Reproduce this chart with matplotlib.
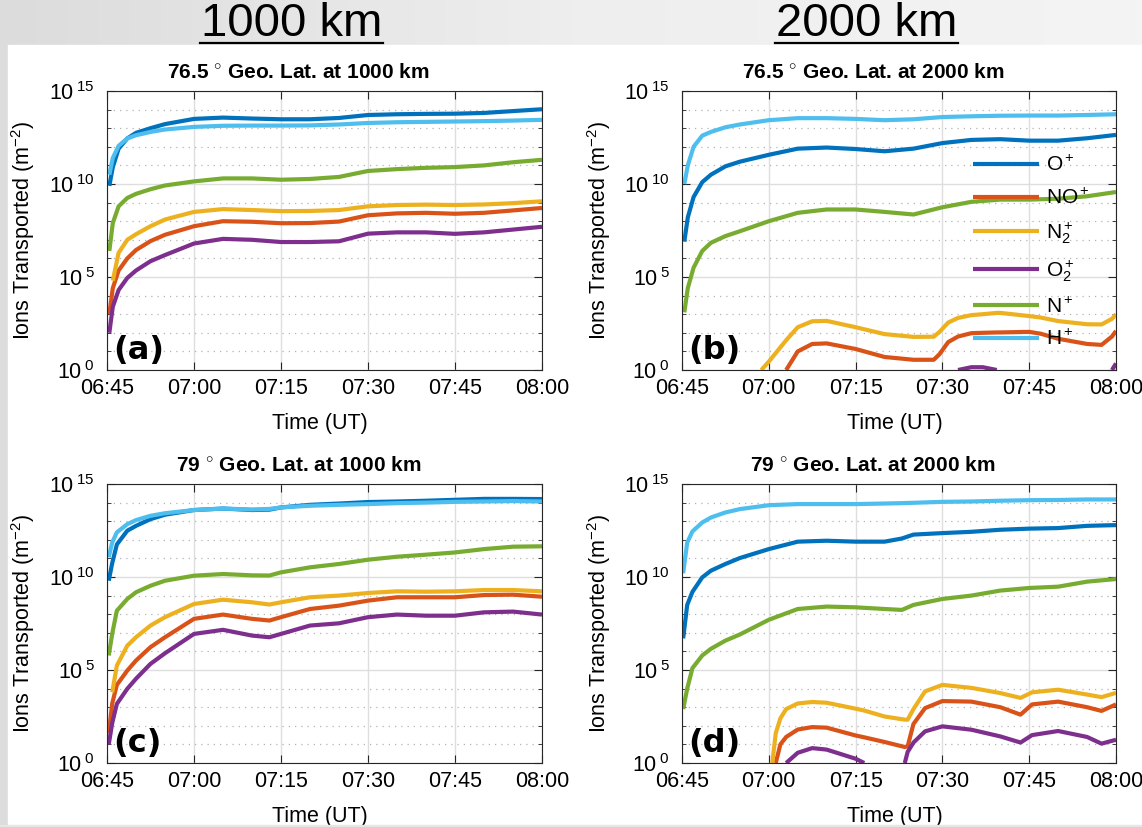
import numpy as np
import matplotlib.pyplot as plt
from matplotlib.patches import Rectangle
from matplotlib.lines import Line2D
from matplotlib.colors import LinearSegmentedColormap
from matplotlib.ticker import FixedLocator, NullFormatter

nan = np.nan

# time in minutes after 06:45 UT, values are log10(ions m^-2)
ions = ['O$^+$', 'NO$^+$', 'N$_2^+$', 'O$_2^+$', 'N$^+$', 'H$^+$']
colors = ['#0072BD', '#D95319', '#EDB120', '#7E2F8E', '#77AC30', '#4DBEEE']
time_ticks = [0, 15, 30, 45, 60, 75]
time_labels = ['06:45', '07:00', '07:15', '07:30', '07:45', '08:00']

# (a) 76.5 deg, 1000 km
t_a = [0.4, 1, 2, 3.5, 5, 7.5, 10, 15, 20, 25, 30, 35, 40, 45, 50, 55, 60, 65, 70, 75]
a_O = [9.9, 10.9, 11.9, 12.45, 12.75, 13.0, 13.22, 13.5, 13.57, 13.52, 13.48, 13.48, 13.55, 13.71, 13.75, 13.77, 13.78, 13.82, 13.92, 14.02]
a_NO = [3.0, 4.4, 5.35, 6.0, 6.45, 6.93, 7.27, 7.73, 8.0, 7.97, 7.89, 7.9, 7.98, 8.32, 8.42, 8.45, 8.4, 8.45, 8.58, 8.71]
a_N2 = [nan, 4.8, 6.3, 7.0, 7.3, 7.73, 8.09, 8.5, 8.65, 8.6, 8.54, 8.55, 8.6, 8.8, 8.87, 8.89, 8.87, 8.9, 8.97, 9.07]
a_O2 = [2.0, 3.4, 4.3, 4.95, 5.35, 5.85, 6.18, 6.8, 7.05, 7.0, 6.88, 6.88, 6.92, 7.33, 7.4, 7.4, 7.32, 7.4, 7.55, 7.7]
a_N = [6.4, 7.9, 8.8, 9.25, 9.47, 9.72, 9.92, 10.14, 10.3, 10.3, 10.23, 10.27, 10.38, 10.7, 10.8, 10.87, 10.91, 11.0, 11.17, 11.3]
a_H = [10.5, 11.4, 12.05, 12.45, 12.62, 12.8, 12.93, 13.07, 13.13, 13.14, 13.14, 13.15, 13.2, 13.28, 13.32, 13.34, 13.36, 13.38, 13.41, 13.45]

# (b) 76.5 deg, 2000 km
t_b = [0.4, 1, 2, 3.5, 5, 7.5, 10, 15, 20, 25, 30, 35, 40, 45, 50, 55, 60, 65, 70, 75]
b_O = [6.9, 8.2, 9.3, 10.1, 10.5, 10.95, 11.2, 11.57, 11.9, 11.96, 11.88, 11.76, 11.9, 12.2, 12.37, 12.41, 12.33, 12.33, 12.46, 12.64]
b_N = [3.1, 4.4, 5.5, 6.4, 6.84, 7.2, 7.46, 8.0, 8.45, 8.63, 8.63, 8.5, 8.36, 8.75, 9.04, 9.16, 9.16, 9.21, 9.34, 9.57]
b_H = [10.0, 11.0, 12.0, 12.6, 12.8, 13.05, 13.2, 13.43, 13.54, 13.54, 13.5, 13.43, 13.48, 13.6, 13.64, 13.67, 13.68, 13.68, 13.71, 13.75]
t_b_low = [13.7, 15, 18, 20, 22.5, 25, 30, 35, 40, 43.5, 44.5, 46, 47.7, 50, 52, 54.4, 55, 60, 62, 65, 70, 72.5, 74.3, 75]
b_NO = [nan, nan, 0.0, 1.0, 1.4, 1.43, 1.13, 0.7, 0.55, 0.55, 0.85, 1.5, 1.8, 1.98, 2.0, 2.02, 2.02, 2.05, 1.95, 1.68, 1.4, 1.35, 1.8, 2.1]
b_N2 = [0.0, 0.45, 1.6, 2.3, 2.62, 2.64, 2.3, 1.93, 1.78, 1.79, 2.05, 2.55, 2.8, 2.95, 3.0, 3.07, 3.07, 2.9, 2.82, 2.63, 2.46, 2.45, 2.75, 3.0]
b_O2 = [nan, nan, nan, nan, nan, nan, nan, nan, nan, nan, nan, nan, 0.0, 0.15, 0.15, 0.0, nan, nan, nan, nan, nan, nan, 0.0, 0.35]

# (c) 79 deg, 1000 km
t_c = [0.3, 0.9, 1.7, 3.5, 5, 7.5, 10, 15, 20, 25, 28, 30, 35, 40, 45, 50, 55, 60, 65, 70, 75]
c_O = [9.8, 10.75, 11.75, 12.49, 12.75, 13.11, 13.35, 13.6, 13.68, 13.6, 13.62, 13.74, 13.88, 13.95, 14.03, 14.06, 14.1, 14.15, 14.2, 14.2, 14.19]
c_NO = [1.6, 3.2, 4.2, 4.97, 5.51, 6.23, 6.76, 7.75, 7.98, 7.75, 7.66, 7.84, 8.28, 8.46, 8.73, 8.91, 8.91, 8.91, 9.03, 9.05, 8.94]
c_N2 = [nan, 3.8, 5.24, 6.31, 6.76, 7.39, 7.84, 8.55, 8.78, 8.64, 8.52, 8.64, 8.91, 9.0, 9.14, 9.23, 9.21, 9.23, 9.3, 9.3, 9.23]
c_O2 = [1.0, 2.15, 3.18, 3.99, 4.53, 5.33, 5.9, 6.94, 7.16, 6.85, 6.76, 6.94, 7.39, 7.51, 7.84, 7.98, 7.92, 7.92, 8.1, 8.14, 7.98]
c_N = [5.78, 6.95, 8.19, 8.82, 9.18, 9.53, 9.8, 10.07, 10.16, 10.09, 10.08, 10.25, 10.52, 10.7, 10.93, 11.09, 11.2, 11.32, 11.5, 11.63, 11.65]
c_H = [11.06, 11.86, 12.4, 12.84, 13.06, 13.29, 13.43, 13.6, 13.68, 13.63, 13.66, 13.74, 13.83, 13.88, 13.92, 13.97, 14.0, 14.04, 14.06, 14.08, 14.06]

# (d) 79 deg, 2000 km
t_d = [0.2, 0.9, 1.8, 3.5, 5, 7.5, 10, 15, 20, 25, 30, 35, 38, 40, 45, 50, 55, 60, 65, 70, 75]
d_O = [6.7, 8.5, 9.2, 9.98, 10.34, 10.7, 11.02, 11.5, 11.9, 11.95, 11.9, 11.9, 12.07, 12.28, 12.36, 12.43, 12.54, 12.6, 12.63, 12.75, 12.79]
d_N = [2.9, 4.0, 5.1, 5.78, 6.14, 6.58, 6.91, 7.7, 8.28, 8.41, 8.37, 8.28, 8.23, 8.5, 8.82, 9.0, 9.27, 9.41, 9.48, 9.75, 9.89]
d_H = [10.2, 11.85, 12.45, 12.93, 13.2, 13.47, 13.65, 13.86, 13.92, 13.92, 13.92, 13.95, 13.97, 13.99, 14.04, 14.06, 14.1, 14.13, 14.14, 14.17, 14.17]
t_d_low = [15.6, 16.2, 17, 18, 20, 22.5, 25, 30, 31.5, 35, 38.5, 39, 40, 42, 45, 50, 55, 58.5, 60.5, 65, 70, 72.5, 75]
d_NO = [nan, 0.0, 1.0, 1.4, 1.8, 1.93, 1.9, 1.48, 1.38, 1.13, 0.86, 0.9, 2.1, 2.95, 3.33, 3.3, 3.0, 2.6, 3.15, 3.3, 3.0, 2.8, 3.15]
d_N2 = [0.0, 1.6, 2.4, 2.9, 3.2, 3.28, 3.24, 2.92, 2.82, 2.5, 2.33, 2.33, 2.9, 3.85, 4.2, 4.04, 3.76, 3.5, 3.8, 3.94, 3.68, 3.54, 3.77]
d_O2 = [nan, nan, nan, 0.0, 0.55, 0.8, 0.72, 0.23, 0.0, nan, 0.0, 0.6, 1.1, 1.7, 1.97, 1.79, 1.43, 1.1, 1.5, 1.72, 1.4, 1.04, 1.25]

plt.rcParams['font.family'] = ['Liberation Sans', 'DejaVu Sans']
plt.rcParams['mathtext.fontset'] = 'custom'
plt.rcParams['mathtext.rm'] = 'Liberation Sans'
plt.rcParams['mathtext.it'] = 'Liberation Sans:italic'
plt.rcParams['mathtext.bf'] = 'Liberation Sans:bold'

W, H = 1142, 827
fig = plt.figure(figsize=(W / 100, H / 100), dpi=100)

# slide-like background
bg = fig.add_axes([0, 0, 1, 1], zorder=-10)
grad = np.linspace(0, 1, 256).reshape(1, -1)
cmap = LinearSegmentedColormap.from_list('g', ['#dcdcdc', '#eeeeee', '#f4f4f4'])
bg.imshow(grad, aspect='auto', extent=[0, 1, 0, 1], cmap=cmap)
bg.add_patch(Rectangle((8 / W, 1 - 825 / H), 1 - 8 / W, (825 - 45) / H, color='white'))
bg.set_xlim(0, 1)
bg.set_ylim(0, 1)
bg.axis('off')

for txt, xc, x0, x1 in [('1000 km', 292, 200, 383), ('2000 km', 867, 775, 958)]:
    fig.text(xc / W, 1 - 24 / H, txt, fontsize=34, ha='center', va='center')
    fig.add_artist(Line2D([x0 / W, x1 / W], [1 - 43 / H, 1 - 43 / H], color='black', lw=1.6))


def fpos(left, top, right, bottom):
    return [left / W, 1 - bottom / H, (right - left) / W, (bottom - top) / H]


axes = {
    'a': fig.add_axes(fpos(107, 91, 542, 370)),
    'b': fig.add_axes(fpos(682, 91, 1116, 370)),
    'c': fig.add_axes(fpos(107, 484, 542, 763)),
    'd': fig.add_axes(fpos(682, 484, 1116, 763)),
}
titles = {
    'a': r'76.5 $^{\circ}$ Geo. Lat. at 1000 km',
    'b': r'76.5 $^{\circ}$ Geo. Lat. at 2000 km',
    'c': r'79 $^{\circ}$ Geo. Lat. at 1000 km',
    'd': r'79 $^{\circ}$ Geo. Lat. at 2000 km',
}
series = {
    'a': [(t_a, a_O), (t_a, a_NO), (t_a, a_N2), (t_a, a_O2), (t_a, a_N), (t_a, a_H)],
    'b': [(t_b, b_O), (t_b_low, b_NO), (t_b_low, b_N2), (t_b_low, b_O2), (t_b, b_N), (t_b, b_H)],
    'c': [(t_c, c_O), (t_c, c_NO), (t_c, c_N2), (t_c, c_O2), (t_c, c_N), (t_c, c_H)],
    'd': [(t_d, d_O), (t_d_low, d_NO), (t_d_low, d_N2), (t_d_low, d_O2), (t_d, d_N), (t_d, d_H)],
}

for key, ax in axes.items():
    for (t, v), col, lab in zip(series[key], colors, ions):
        ax.plot(t, 10.0 ** np.array(v), color=col, lw=3, label=lab, solid_capstyle='butt')
    ax.set_yscale('log')
    ax.set_xlim(0, 75)
    ax.set_ylim(1, 1e15)
    ax.set_xticks(time_ticks)
    ax.set_xticklabels(time_labels)
    ax.set_yticks([1, 1e5, 1e10, 1e15])
    ax.set_yticklabels([r'10$\,^{0}$', r'10$\,^{5}$', r'10$\,^{10}$', r'10$\,^{15}$'])
    ax.yaxis.set_minor_locator(FixedLocator(10.0 ** np.arange(0, 16)))
    ax.yaxis.set_minor_formatter(NullFormatter())
    ax.tick_params(which='both', direction='in', top=True, right=True, color='#262626')
    ax.tick_params(which='major', length=6, width=0.8, labelsize=15.5)
    ax.tick_params(which='minor', length=3, width=0.6)
    ax.tick_params(axis='y', pad=9)
    ax.tick_params(axis='x', pad=6)
    ax.grid(True, which='major', color='#dedede', lw=1, ls='-')
    ax.grid(True, which='minor', axis='y', color='#b4b4b4', lw=0.9, ls=(0, (1, 4)))
    ax.set_axisbelow(True)
    for sp in ax.spines.values():
        sp.set_color('#262626')
        sp.set_linewidth(0.8)
    ax.set_ylabel('Ions Transported (m$^{\\mathrm{-2}}$)', fontsize=15.5)
    ax.yaxis.set_label_coords(-0.16, 0.5)
    ax.set_xlabel('Time (UT)', fontsize=15.5)
    ax.xaxis.set_label_coords(0.49, -0.155)
    ax.text(0.44, 1.065, titles[key], transform=ax.transAxes, ha='center', va='center',
            fontsize=15, fontweight='bold')
    ax.text(0.014, 0.015, '(' + key + ')', transform=ax.transAxes, ha='left', va='bottom',
            fontsize=23, fontweight='bold', family='DejaVu Sans')

axes['b'].legend(loc='upper left', bbox_to_anchor=(0.67, 0.77), frameon=False, fontsize=15,
                 handlelength=3.2, handletextpad=0.3, labelspacing=0.6,
                 borderpad=0, borderaxespad=0)

# bottom edge of the slide
fig.add_artist(Rectangle((0, 0), 1, 1 - 825 / H, transform=fig.transFigure,
                         color='#e6e6e6', zorder=20))

fig.savefig('out.png', dpi=100)
